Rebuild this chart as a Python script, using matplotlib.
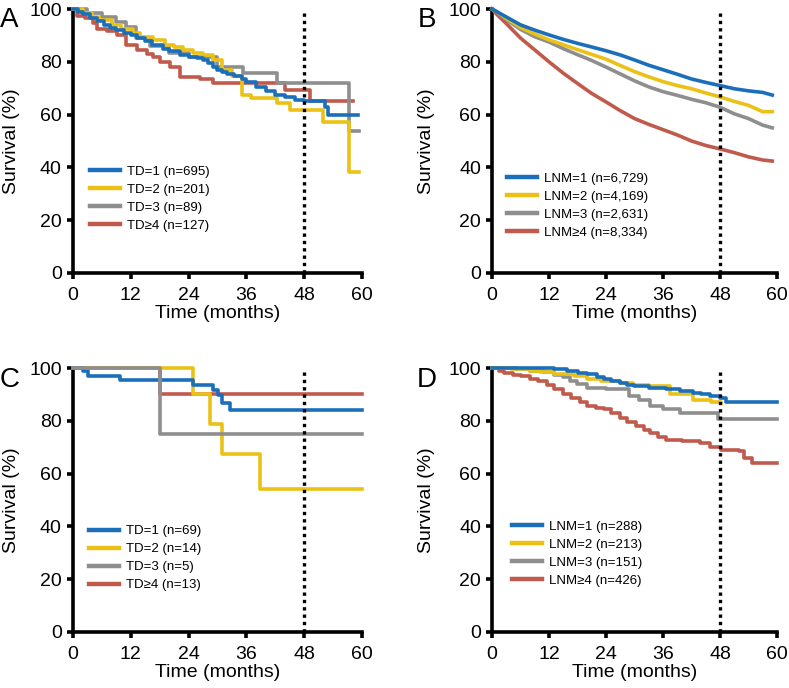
import matplotlib
matplotlib.use("Agg")
import matplotlib.pyplot as plt

plt.rcParams["font.family"] = ["Liberation Sans", "DejaVu Sans"]

COLORS = ["#1b6fba", "#ecc116", "#8e8e8e", "#c05a4c"]

# ---- Panel A: TD, cohort 1 ----
a_t1 = [0, 1, 2, 3.5, 5, 6.5, 7.7, 9, 10.5, 12, 13.2, 15, 16.5, 18.7, 20, 22.2, 24, 25.7, 27, 28, 29,
        30, 31, 32, 33.5, 35, 36, 38, 40, 42, 44, 46, 48, 52.3, 53, 59.2]
a_s1 = [100, 99, 98, 96.5, 95.5, 94, 92.7, 92, 91, 90, 89, 88, 86.5, 85, 84, 82.6, 82, 81.3, 80.5, 79.5, 78,
        77, 76.3, 75.5, 74.5, 73.5, 72.5, 70.5, 69, 67.5, 66.5, 65.5, 65, 62.8, 59.8, 59.8]
a_t2 = [0, 2, 4, 5.5, 8, 10, 12.5, 14, 16.6, 19, 21, 22.9, 25, 27, 29.1, 31, 33, 35, 37, 42.3, 45, 52, 57.3, 59.3]
a_s2 = [100, 98.5, 97, 95.8, 94, 92.5, 90.8, 89.5, 88.3, 86.5, 85.5, 84.5, 83.2, 82.5, 80.5, 77, 74.5, 67.5,
        66.3, 64.3, 61.7, 57.3, 38.4, 38.4]
a_t3 = [0, 3, 6, 9, 11, 13, 16, 20, 24, 29.8, 35.3, 42.3, 57.4, 59.3]
a_s3 = [100, 98.5, 97, 95, 93, 88.9, 86, 83.5, 82, 78.2, 75.8, 72, 53.8, 53.8]
a_t4 = [0, 0.8, 2.5, 4.2, 4.9, 7, 9.1, 11.1, 13.2, 15.3, 16.6, 18, 20.1, 22.2, 26.4, 29.1, 44, 49.2, 58.2]
a_s4 = [100, 97.5, 96.5, 94.6, 92.5, 91.5, 90.2, 86.4, 84.5, 83, 81.9, 80, 78.1, 74.4, 73.5, 71.9, 69.3, 65, 65]
a_labels = ["TD=1 (n=695)", "TD=2 (n=201)", "TD=3 (n=89)", "TD\u22654 (n=127)"]

# ---- Panel B: LNM, cohort 1 ----
b_t = [0, 1, 3, 6, 9, 12, 15, 18, 21, 24, 27, 30, 33, 36, 39, 42, 45, 48, 51, 54, 57, 59]
b_s1 = [100, 99, 97, 94, 92, 90.2, 88.5, 87, 85.6, 84.2, 82.6, 80.7, 78.7, 77, 75.3, 73.5, 72.2, 71, 69.8,
        69, 68.4, 67.4]
b_s2 = [100, 99, 96.5, 93, 90.5, 88.3, 86.5, 84.6, 82.8, 81, 78.6, 76.3, 74.3, 72.5, 71, 69.8, 68.2, 66.7,
        65, 63.5, 61.1, 61.1]
b_s3 = [100, 99, 96, 92.3, 89.5, 87.5, 85, 82.7, 80.5, 78, 75.4, 72.8, 70.5, 68.7, 67.3, 65.8, 64.5, 62.8,
        60.3, 58.5, 56, 55]
b_s4 = [100, 98, 94.5, 89, 84.5, 80, 75.7, 71.8, 68, 64.8, 61.5, 58.5, 56.3, 54.3, 52.3, 50, 48.3, 47,
        45.6, 44, 42.8, 42.4]
b_labels = ["LNM=1 (n=6,729)", "LNM=2 (n=4,169)", "LNM=3 (n=2,631)", "LNM\u22654 (n=8,334)"]

# ---- Panel C: TD, cohort 2 ----
c_t1 = [0, 2.1, 3.2, 9.8, 25, 29.1, 30.2, 30.9, 32.6, 60]
c_s1 = [100, 98.7, 97, 95.3, 93.7, 91.5, 89.6, 86.9, 84, 84]
c_t2 = [0, 25, 28.4, 30.9, 38.8, 60]
c_s2 = [100, 90.3, 78.9, 67.5, 54.3, 54.3]
c_t3 = [0, 18.1, 60]
c_s3 = [100, 75.1, 75.1]
c_t4 = [0, 18.1, 60]
c_s4 = [100, 90.3, 90.3]
c_labels = ["TD=1 (n=69)", "TD=2 (n=14)", "TD=3 (n=5)", "TD\u22654 (n=13)"]

# ---- Panel D: LNM, cohort 2 ----
d_t1 = [0, 10, 13.1, 15.8, 18, 20, 22, 23.5, 25, 26.9, 28.5, 29.8, 33, 36.7, 39.5, 42.3, 44, 45.8, 47.9,
        49.2, 60]
d_s1 = [100, 99.9, 99.5, 98.9, 98.2, 97.6, 96.5, 95.7, 95, 94.4, 93.6, 93.2, 92.5, 91.9, 91.2, 90.6, 90,
        89.4, 88.5, 87.2, 87.2]
d_t2 = [0, 4, 8, 10, 13.1, 17.3, 20, 23, 26.9, 29.7, 33, 37.4, 42.3, 46, 48.2]
d_s2 = [100, 99.6, 99, 98.5, 97.6, 96.9, 95.7, 95, 94.4, 93.6, 93.2, 90, 87.7, 87, 86.8]
d_t3 = [0, 5, 8, 11, 13.1, 15, 16.5, 17.9, 20, 24, 26.2, 28.9, 30.9, 33.3, 36, 39.5, 47.5, 60]
d_s3 = [100, 99.5, 99, 98.3, 97.3, 96.5, 95.1, 93.8, 92.5, 92, 91.9, 89.4, 87.7, 85.6, 84.5, 83, 80.5, 80.5]
d_t4 = [0, 1.5, 2.6, 4.5, 6.1, 8, 9.6, 11.5, 13.1, 15, 16.6, 18.5, 20, 21.8, 23.5, 25, 26.9, 28.5, 30.4,
        32, 33.3, 35, 36.7, 40, 43.7, 45.8, 48.2, 52, 53.1, 54.8, 60]
d_s4 = [100, 99, 98.2, 97.5, 96.9, 96, 95.1, 93.5, 91.9, 90.3, 88.7, 87, 85.6, 84.8, 84.3, 82.8, 81.1,
        79.5, 78, 76.5, 75.4, 74, 72.9, 72.2, 71.6, 70, 69.1, 68.5, 65.9, 64, 64]
d_labels = ["LNM=1 (n=288)", "LNM=2 (n=213)", "LNM=3 (n=151)", "LNM\u22654 (n=426)"]

x_ticks = [0, 12, 24, 36, 48, 60]
y_ticks = [0, 20, 40, 60, 80, 100]
cutoff = 48

fig = plt.figure(figsize=(7.89, 6.88), dpi=100)


def panel(rect, curves, labels, order, leg_xy, letter, letter_xy, ylab_x, step=True):
    ax = fig.add_axes(rect)
    handles = [None] * 4
    for i in order:
        t, s = curves[i]
        if step:
            h, = ax.step(t, s, where="post", color=COLORS[i], lw=2.6, clip_on=False, zorder=3 + order.index(i))
        else:
            h, = ax.plot(t, s, color=COLORS[i], lw=2.6, clip_on=False, zorder=3 + order.index(i))
        handles[i] = h
    ax.axvline(cutoff, color="black", lw=2.4, linestyle=(0, (1, 1.2)), zorder=10)
    ax.set_xlim(0, 60)
    ax.set_ylim(0, 100)
    ax.set_xticks(x_ticks)
    ax.set_yticks(y_ticks)
    for sp in ["top", "right"]:
        ax.spines[sp].set_visible(False)
    for sp in ["left", "bottom"]:
        ax.spines[sp].set_linewidth(2.6)
    ax.tick_params(width=2.6, length=4, labelsize=14)
    ax.tick_params(axis="x", pad=6)
    ax.tick_params(axis="y", pad=4)
    ax.set_xlabel("Time (months)", fontsize=14, labelpad=1)
    ax.set_ylabel("Survival (%)", fontsize=14)
    ax.yaxis.set_label_coords(ylab_x, 0.5)
    leg = ax.legend(handles, labels, loc="upper left", bbox_to_anchor=leg_xy, frameon=False,
                    fontsize=9.5, handlelength=2.3, handletextpad=0.5, labelspacing=0.44,
                    borderpad=0, borderaxespad=0)
    for line in leg.get_lines():
        line.set_linewidth(3.2)
    fig.text(letter_xy[0], letter_xy[1], letter, fontsize=20, va="baseline", ha="left")
    return ax


panel([0.0925, 0.6032, 0.3663, 0.3837],
      [(a_t1, a_s1), (a_t2, a_s2), (a_t3, a_s3), (a_t4, a_s4)], a_labels, [3, 2, 1, 0],
      (0.059, 0.408), "A", (0.0, 0.961), -0.183)
panel([0.6236, 0.6032, 0.3612, 0.3837],
      [(b_t, b_s1), (b_t, b_s2), (b_t, b_s3), (b_t, b_s4)], b_labels, [3, 2, 1, 0],
      (0.052, 0.381), "B", (0.530, 0.961), -0.2, step=False)
panel([0.0925, 0.0814, 0.3663, 0.3837],
      [(c_t1, c_s1), (c_t2, c_s2), (c_t3, c_s3), (c_t4, c_s4)], c_labels, [3, 1, 0, 2],
      (0.055, 0.405), "C", (0.0, 0.4375), -0.183)
panel([0.6236, 0.0814, 0.3612, 0.3837],
      [(d_t1, d_s1), (d_t2, d_s2), (d_t3, d_s3), (d_t4, d_s4)], d_labels, [3, 2, 1, 0],
      (0.069, 0.422), "D", (0.5285, 0.4375), -0.2)

fig.savefig("out.png", dpi=100)
